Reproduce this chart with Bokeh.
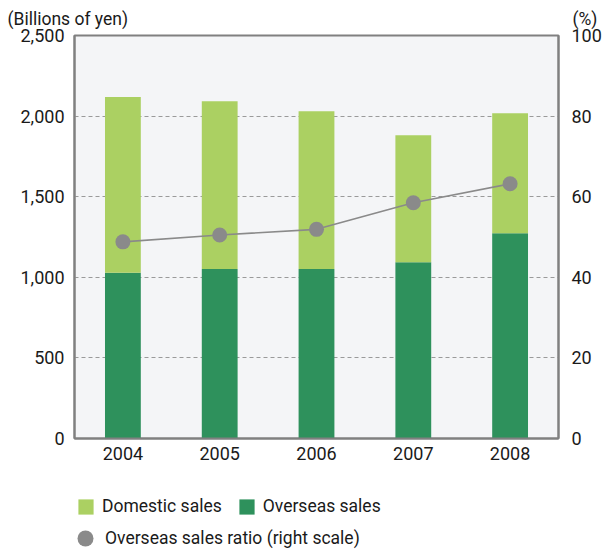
from bokeh.plotting import figure
from bokeh.models import (ColumnDataSource, Range1d, LinearAxis, NumeralTickFormatter,
                          Legend, LegendItem, FixedTicker, Label)
from bokeh.layouts import column
from bokeh.embed import file_html
from bokeh.resources import INLINE

years = ["2004", "2005", "2006", "2007", "2008"]
domestic = [1091, 1041, 979, 787, 744]
overseas = [1028, 1051, 1051, 1094, 1274]
ratio = [48.8, 50.5, 51.9, 58.5, 63.2]

left_ticks = [0, 500, 1000, 1500, 2000, 2500]
right_ticks = [0, 20, 40, 60, 80, 100]

C_DOM = "#abd062"
C_OVS = "#2e915c"
C_RATIO = "#8a8a8a"
C_AXIS = "#808080"
C_TEXT = "#1a1a1a"
FONT = "Roboto"
W = 604
H_HEAD = 36
OVERLAP = 14
H_MAIN = 453
H_LEG = 552 - (H_HEAD - OVERLAP) - H_MAIN

src = ColumnDataSource(dict(year=years, domestic=domestic, overseas=overseas, ratio=ratio))

# ---------- header with unit labels ----------
head = figure(width=W, height=H_HEAD, output_backend="svg", toolbar_location=None,
              x_axis_location=None, y_axis_location=None, min_border=0,
              x_range=Range1d(0, 1), y_range=Range1d(0, 1))
head.frame_align = False
head.margin = (0, 0, -OVERLAP, 0)
head.outline_line_color = None
head.grid.visible = False
head.add_layout(Label(x=7, y=H_HEAD - 18, x_units="screen", y_units="screen",
                      text="(Billions of yen)", text_font=FONT, text_font_size="17.5px",
                      text_baseline="middle", text_color=C_TEXT))
head.add_layout(Label(x=572, y=H_HEAD - 18, x_units="screen", y_units="screen", text="(%)",
                      text_font=FONT, text_font_size="17.5px", text_baseline="middle",
                      text_color=C_TEXT))

# ---------- main chart ----------
p = figure(x_range=years, y_range=Range1d(0, 2500), width=W, height=H_MAIN,
           output_backend="svg", toolbar_location=None,
           min_border_left=74, min_border_right=42, min_border_top=13, min_border_bottom=37)
p.extra_y_ranges = {"pct": Range1d(0, 100)}

p.background_fill_color = "#f4f5f7"
p.border_fill_alpha = 0
p.outline_line_color = C_AXIS
p.outline_line_width = 2

bars = p.vbar_stack(["overseas", "domestic"], x="year", width=0.37, source=src,
                    color=[C_OVS, C_DOM], line_color=None)
p.line("year", "ratio", source=src, y_range_name="pct", line_color=C_RATIO, line_width=1.6)
p.scatter("year", "ratio", source=src, y_range_name="pct", size=15,
          fill_color=C_RATIO, line_color=None)

p.yaxis.ticker = FixedTicker(ticks=left_ticks)
p.yaxis.formatter = NumeralTickFormatter(format="0,0")
right = LinearAxis(y_range_name="pct", ticker=FixedTicker(ticks=right_ticks))
p.add_layout(right, "right")

for ax in [p.xaxis[0], p.yaxis[0], right]:
    ax.axis_line_color = C_AXIS
    ax.axis_line_width = 2
    ax.major_tick_line_color = None
    ax.minor_tick_line_color = None
    ax.major_label_text_font = FONT
    ax.major_label_text_font_size = "18px"
    ax.major_label_text_color = C_TEXT
p.yaxis[0].major_label_standoff = 4
right.major_label_standoff = 7
p.xaxis.major_label_standoff = 2

p.xgrid.grid_line_color = None
p.ygrid.ticker = FixedTicker(ticks=[500, 1000, 1500, 2000])
p.ygrid.grid_line_color = "#9a9a9a"
p.ygrid.grid_line_dash = "4 3"
p.ygrid.grid_line_width = 1

# ---------- legend strip (hidden twins of the series, legend only) ----------
lg = figure(x_range=years, y_range=Range1d(0, 2500), width=W, height=H_LEG,
            output_backend="svg", toolbar_location=None,
            x_axis_location=None, y_axis_location=None,
            min_border_left=74, min_border_right=42, min_border_top=0, min_border_bottom=0)
lg.extra_y_ranges = {"pct": Range1d(0, 100)}
lg.outline_line_color = None
lg.grid.visible = False
lg_bars = lg.vbar_stack(["overseas", "domestic"], x="year", width=0.37, source=src,
                        color=[C_OVS, C_DOM], line_color=None, visible=False)
lg_dots = lg.scatter("year", "ratio", source=src, y_range_name="pct", size=15,
                     fill_color=C_RATIO, line_color=None, visible=False)

common = dict(padding=0, margin=0, border_line_color=None, background_fill_alpha=0,
              label_text_font=FONT, label_text_color=C_TEXT, label_text_font_size="17.5px")
leg1 = Legend(items=[LegendItem(label="Domestic sales", renderers=[lg_bars[1]]),
                     LegendItem(label="Overseas sales", renderers=[lg_bars[0]])],
              orientation="horizontal", location=(2, 36), glyph_width=19, glyph_height=19,
              label_standoff=7, spacing=15, **common)
leg2 = Legend(items=[LegendItem(label="Overseas sales ratio (right scale)", renderers=[lg_dots])],
              location=(-9, -9), glyph_width=40, glyph_height=46,
              label_standoff=0, **common)
lg.add_layout(leg1, "center")
lg.add_layout(leg2, "center")

layout = column(head, p, lg, spacing=0)
open("out.html", "w").write(file_html(layout, INLINE))
